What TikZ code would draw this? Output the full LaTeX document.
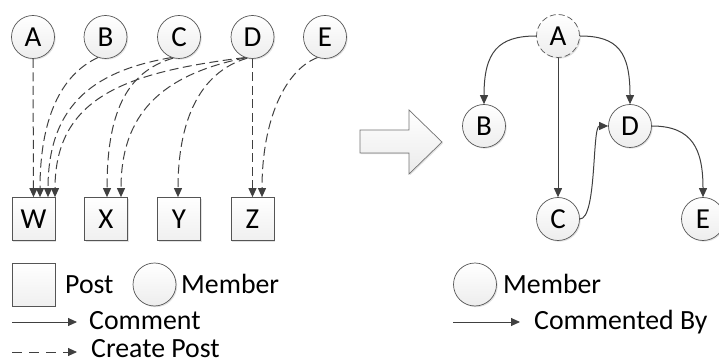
\documentclass[tikz,border=0pt]{standalone}
\usepackage{fontspec}
\setmainfont{Carlito}
\usetikzlibrary{arrows.meta,shadows}
\definecolor{ln}{HTML}{404040}
\definecolor{bd}{HTML}{555555}
\tikzset{
  member/.style={circle, minimum size=43pt, inner sep=0pt, draw=bd, line width=0.7pt,
    top color=white, bottom color=black!7,
    drop shadow={shadow xshift=1.2pt, shadow yshift=-1.2pt, fill=black!25, opacity=0.45},
    font=\fontsize{29}{30}\selectfont},
  post/.style={rectangle, minimum size=43pt, inner sep=0pt, draw=bd, line width=0.7pt,
    top color=white, bottom color=black!6,
    drop shadow={shadow xshift=1.2pt, shadow yshift=-1.2pt, fill=black!25, opacity=0.45},
    font=\fontsize{29}{30}\selectfont},
  conn/.style={draw=ln, line width=1pt, -{Triangle[length=9pt,width=8pt]}},
  cpost/.style={conn, dash pattern=on 9pt off 4.5pt},
  leg/.style={anchor=base west, inner sep=0pt, font=\fontsize{27.8}{29}\selectfont},
}
\begin{document}
\begin{tikzpicture}[x=1pt,y=-1pt]
\useasboundingbox (0,0) rectangle (719,363);
% left graph
\node[member] (A) at (33,37) {A};
\node[member] (B) at (105.5,37) {B};
\node[member] (C) at (179,37) {C};
\node[member] (D) at (252.5,37) {D};
\node[member] (E) at (325,37) {E};
\node[post] (W) at (33.5,219) {W};
\node[post] (X) at (106,219) {X};
\node[post] (Y) at (179,219) {Y};
\node[post] (Z) at (252.5,219) {Z};
\draw[cpost] (A.south) -- (W.north);
\draw[cpost] (B.250) .. controls (60,75) and (40,120) .. ([xshift=6.5pt]W.north);
\draw[cpost] (C.250) .. controls (100,70) and (48,100) .. ([xshift=14.5pt]W.north);
\draw[cpost] (D.250) .. controls (130,72) and (55,95) .. ([xshift=21.5pt]W.north);
\draw[cpost] (C.255) .. controls (125,72) and (107,115) .. ([xshift=1pt]X.north);
\draw[cpost] (D.252) .. controls (160,75) and (121,115) .. ([xshift=15pt]X.north);
\draw[cpost] (D.256) .. controls (200,72) and (178,120) .. ([xshift=-1pt]Y.north);
\draw[cpost] (D.south) -- (Z.north);
\draw[cpost] (E.250) .. controls (285,70) and (262,120) .. ([xshift=9.5pt]Z.north);
% big arrow
\draw[draw=black!55, line width=0.7pt, top color=white, bottom color=black!8,
  drop shadow={shadow xshift=1.2pt, shadow yshift=-1.2pt, fill=black!25, opacity=0.45}]
  (360,130) -- (409,130) -- (409,110) -- (442,142) -- (409,174) -- (409,153) -- (360,153) -- cycle;
% right graph
\node[member, dashed, dash pattern=on 6pt off 3pt] (A2) at (558,36) {A};
\node[member] (B2) at (484,126) {B};
\node[member] (D2) at (630,126) {D};
\node[member] (C2) at (558,219) {C};
\node[member] (E2) at (703,219) {E};
\draw[conn] (A2.west) .. controls (498,36) and (484,52) .. (B2.north);
\draw[conn] (A2.east) .. controls (618,36) and (630,52) .. (D2.north);
\draw[conn] (A2.south) -- (C2.north);
\draw[conn] (C2.east) .. controls (597,219) and (592,126) .. (D2.west);
\draw[conn] (D2.east) .. controls (693,126) and (703,150) .. (E2.north);
% legend left
\node[post] (LP) at (33.5,284.5) {};
\node[leg] (tPost) at (65,293) {Post};
\node[member] (LM) at (154.5,284.5) {};
\node[leg] (tMem) at (181,293) {Member};
\coordinate (c1a) at (12,322); \coordinate (c1b) at (77,322);
\draw[conn, line width=0.9pt] (c1a) -- (c1b);
\node[leg] (tCom) at (89,329) {Comment};
\coordinate (c2a) at (12,352); \coordinate (c2b) at (77,352);
\draw[conn, line width=0.9pt, dash pattern=on 10pt off 7pt] (c2a) -- (c2b);
\node[leg] (tCP) at (91,357.5) {Create Post};
% legend right
\node[member] (LM2) at (475,284.5) {};
\node[leg] (tMem2) at (503,293) {Member};
\coordinate (c3a) at (453,322); \coordinate (c3b) at (520,322);
\draw[conn, line width=0.9pt] (c3a) -- (c3b);
\node[leg] (tCB) at (534,329) {Commented By};
\end{tikzpicture}
\end{document}
